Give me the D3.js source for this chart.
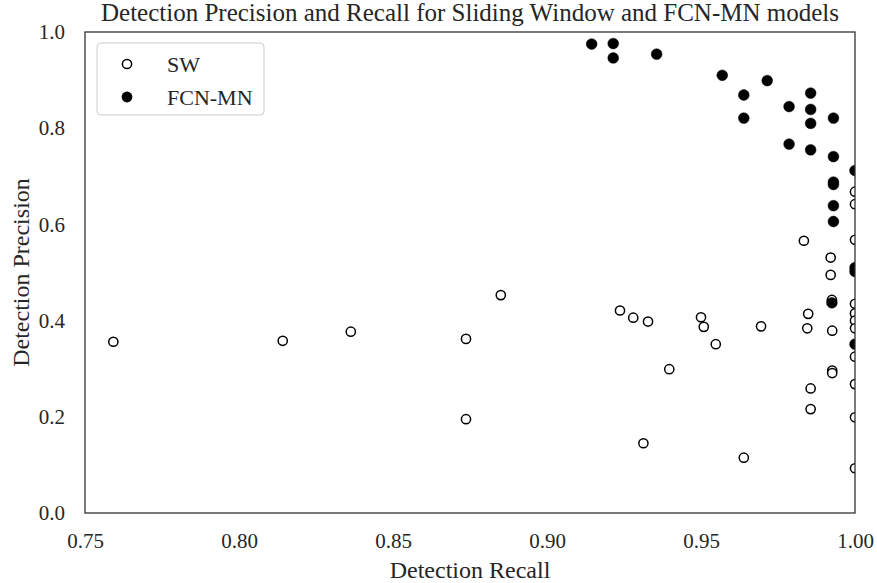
<!DOCTYPE html>
<html><head><meta charset="utf-8">
<script src="https://cdn.jsdelivr.net/npm/d3@7"></script>
<style>body{margin:0;background:#fff}</style>
</head><body>
<svg id="c" width="877" height="583"></svg>
<script>
const swRecall = [0.7592,0.8142,0.8363,0.8737,0.8737,0.885,0.9237,0.928,0.9328,0.95,0.9509,0.9548,0.9695,0.9397,0.9313,0.9639,
  0.9834,0.9921,0.9921,0.9925,0.9848,0.9845,0.9926,0.9926,0.9926,0.9856,0.9856,
  1.0,1.0,1.0,1.0,1.0,1.0,1.0,1.0,1.0,1.0,1.0];
const swPrecision = [0.356,0.358,0.377,0.362,0.195,0.453,0.421,0.406,0.398,0.407,0.387,0.351,0.388,0.299,0.145,0.115,
  0.566,0.531,0.495,0.443,0.414,0.384,0.379,0.296,0.291,0.259,0.216,
  0.668,0.642,0.568,0.435,0.415,0.400,0.384,0.325,0.268,0.199,0.093];
const fcnRecall = [0.9145,0.9215,0.9215,0.9356,0.9569,0.9715,0.9639,0.9856,0.9786,0.9856,0.9856,0.9639,0.993,0.9786,0.9856,0.993,1.0,0.993,0.993,0.993,0.993,1.0,1.0,0.9925,1.0];
const fcnPrecision = [0.975,0.976,0.946,0.954,0.910,0.899,0.869,0.873,0.845,0.839,0.810,0.821,0.821,0.767,0.755,0.741,0.712,0.688,0.683,0.639,0.606,0.510,0.502,0.437,0.351];
const xTicks = [0.75,0.80,0.85,0.90,0.95,1.00];
const yTicks = [0.0,0.2,0.4,0.6,0.8,1.0];
const seriesNames = ["SW","FCN-MN"];

const svg = d3.select("#c");
const m = {l:85, r:855, t:32, b:513};
const x = d3.scaleLinear().domain([0.75,1.0]).range([m.l,m.r]);
const y = d3.scaleLinear().domain([0,1]).range([m.b,m.t]);
const font = "'Liberation Serif', 'Times New Roman', serif";

svg.append("defs").append("clipPath").attr("id","clip")
  .append("rect").attr("x",m.l).attr("y",m.t).attr("width",m.r-m.l).attr("height",m.b-m.t);

const xAxis = svg.append("g").attr("transform",`translate(0,${m.b})`)
  .call(d3.axisBottom(x).tickValues(xTicks).tickFormat(d3.format(".2f")).tickSize(0).tickPadding(20));
const yAxis = svg.append("g").attr("transform",`translate(${m.l},0)`)
  .call(d3.axisLeft(y).tickValues(yTicks).tickFormat(d3.format(".1f")).tickSize(0).tickPadding(20));
[xAxis,yAxis].forEach(a=>{
  a.select(".domain").remove();
  a.selectAll("text").attr("font-family",font).attr("font-size",21).attr("fill","#262626");
});

const pts = svg.append("g").attr("clip-path","url(#clip)");
pts.selectAll("circle.sw").data(swRecall.map((r,i)=>[r,swPrecision[i]])).join("circle")
  .attr("class","sw").attr("cx",d=>x(d[0])).attr("cy",d=>y(d[1])).attr("r",4.6)
  .attr("fill","#fff").attr("stroke","#000").attr("stroke-width",1.5);
pts.selectAll("circle.fcn").data(fcnRecall.map((r,i)=>[r,fcnPrecision[i]])).join("circle")
  .attr("class","fcn").attr("cx",d=>x(d[0])).attr("cy",d=>y(d[1])).attr("r",5.4)
  .attr("fill","#000").attr("stroke","#000").attr("stroke-width",0.5);

svg.append("rect").attr("x",m.l).attr("y",m.t).attr("width",m.r-m.l).attr("height",m.b-m.t)
  .attr("fill","none").attr("stroke","#333").attr("stroke-width",1.3);

// legend
const lg = svg.append("g");
lg.append("rect").attr("x",97).attr("y",43).attr("width",167).attr("height",72).attr("rx",4)
  .attr("fill","#fff").attr("fill-opacity",0.8).attr("stroke","#ccc").attr("stroke-width",1);
lg.append("circle").attr("cx",127).attr("cy",64).attr("r",4.6).attr("fill","#fff").attr("stroke","#000").attr("stroke-width",1.5);
lg.append("circle").attr("cx",127).attr("cy",97).attr("r",5.4).attr("fill","#000");
lg.selectAll("text").data(seriesNames).join("text")
  .attr("x",167).attr("y",(d,i)=>64+i*33).attr("dy","0.35em")
  .attr("font-family",font).attr("font-size",22).attr("fill","#262626").text(d=>d);

svg.append("text").attr("x",(m.l+m.r)/2).attr("y",21).attr("text-anchor","middle")
  .attr("font-family",font).attr("font-size",25).attr("fill","#262626")
  .text("Detection Precision and Recall for Sliding Window and FCN-MN models");
svg.append("text").attr("x",(m.l+m.r)/2).attr("y",578).attr("text-anchor","middle")
  .attr("font-family",font).attr("font-size",24).attr("fill","#262626").text("Detection Recall");
svg.append("text").attr("transform",`translate(29,${(m.t+m.b)/2}) rotate(-90)`).attr("text-anchor","middle")
  .attr("font-family",font).attr("font-size",24).attr("fill","#262626").text("Detection Precision");
</script>
</body></html>
